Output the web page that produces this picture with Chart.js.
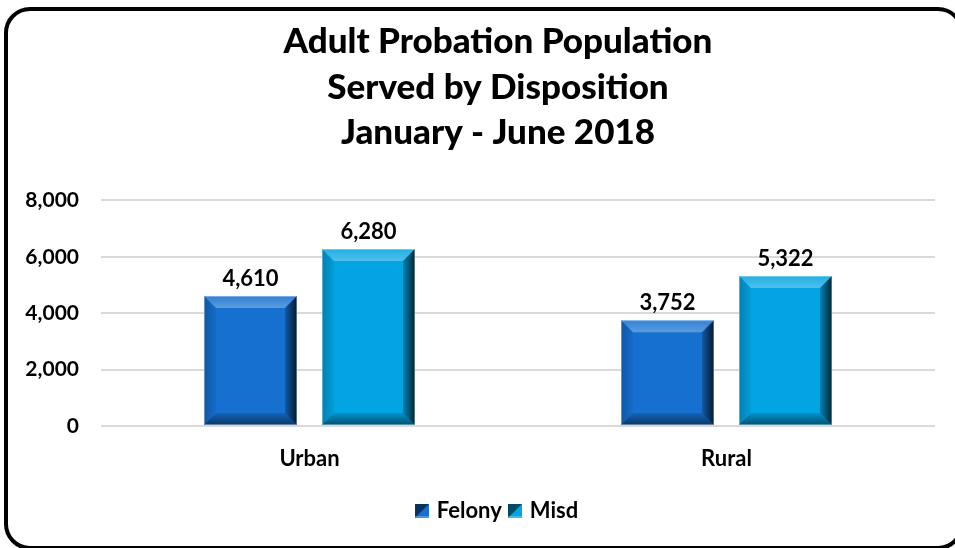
<!DOCTYPE html>
<html>
<head>
<meta charset="utf-8">
<title>Adult Probation Population Served by Disposition</title>
<script src="https://cdn.jsdelivr.net/npm/chart.js@4/dist/chart.umd.min.js"></script>
<style>
    html, body { margin: 0; padding: 0; background: #fff; overflow: hidden; }
    #wrap { position: relative; width: 955px; height: 548px; overflow: hidden; }
    #chart { position: absolute; left: 0; top: 0; }
    .frame {
        position: absolute; left: 4px; top: 7px;
        width: 960px; height: 543px; box-sizing: border-box;
        border: 4px solid #000; border-radius: 26px; pointer-events: none;
    }
</style>
</head>
<body>
<div id="wrap">
    <canvas id="chart" width="955" height="548"></canvas>
    <div class="frame"></div>
</div>
<script>
// 数据
const categories = ['Urban', 'Rural'];
const seriesNames = ['Felony', 'Misd'];
const felonyValues = [4610, 3752];
const misdValues = [6280, 5322];
const yTicks = [0, 2000, 4000, 6000, 8000];
const titleLines = ['Adult Probation Population', 'Served by Disposition', 'January - June 2018'];

const FONT = 'Lato, Carlito, "Open Sans", sans-serif';
const colors = { felony: '#1570d0', misd: '#02a4e2' };

// 图例小方块（带斜面）
function legendSwatch(color) {
    const c = document.createElement('canvas');
    c.width = 14;
    c.height = 14;
    const g = c.getContext('2d');
    g.fillStyle = color;
    g.fillRect(0, 0, 14, 14);
    g.fillStyle = 'rgba(0,0,0,0.55)';
    g.beginPath();
    g.moveTo(0, 0);
    g.lineTo(14, 0);
    g.lineTo(0, 14);
    g.closePath();
    g.fill();
    g.fillStyle = 'rgba(255,255,255,0.25)';
    g.fillRect(0, 12, 14, 2);
    return c;
}

// 斜面效果（bevel）
const bevelPlugin = {
    id: 'bevel',
    afterDatasetsDraw(chart) {
        const ctx = chart.ctx;
        const d = 12;
        chart.data.datasets.forEach((ds, i) => {
            chart.getDatasetMeta(i).data.forEach(bar => {
                const { x, y, base, width } = bar.getProps(['x', 'y', 'base', 'width'], true);
                const l = x - width / 2, r = x + width / 2, t = y, b = base;
                const poly = (pts, fill) => {
                    ctx.beginPath();
                    ctx.moveTo(pts[0][0], pts[0][1]);
                    pts.slice(1).forEach(p => ctx.lineTo(p[0], p[1]));
                    ctx.closePath();
                    ctx.fillStyle = fill;
                    ctx.fill();
                };
                ctx.save();
                let g = ctx.createLinearGradient(0, t, 0, t + d);
                g.addColorStop(0, 'rgba(255,255,255,0.12)');
                g.addColorStop(1, 'rgba(255,255,255,0.3)');
                poly([[l, t], [r, t], [r - d, t + d], [l + d, t + d]], g);

                g = ctx.createLinearGradient(l, 0, l + d, 0);
                g.addColorStop(0, 'rgba(0,0,0,0.22)');
                g.addColorStop(1, 'rgba(0,0,0,0.04)');
                poly([[l, t], [l + d, t + d], [l + d, b - d], [l, b]], g);

                g = ctx.createLinearGradient(0, b - d, 0, b);
                g.addColorStop(0, 'rgba(0,0,0,0.12)');
                g.addColorStop(1, 'rgba(0,0,0,0.5)');
                poly([[l, b], [l + d, b - d], [r - d, b - d], [r, b]], g);

                g = ctx.createLinearGradient(r - d, 0, r, 0);
                g.addColorStop(0, 'rgba(0,0,0,0.2)');
                g.addColorStop(1, 'rgba(0,0,0,0.78)');
                poly([[r, t], [r, b], [r - d, b - d], [r - d, t + d]], g);

                ctx.strokeStyle = 'rgba(255,255,255,0.35)';
                ctx.lineWidth = 1;
                ctx.strokeRect(l + 0.5, t + 0.5, width - 1, b - t - 1);
                ctx.restore();
            });
        });
    }
};

// 数据标签
const valueLabelPlugin = {
    id: 'valueLabels',
    afterDatasetsDraw(chart) {
        const ctx = chart.ctx;
        ctx.save();
        ctx.font = 'bold 22px ' + FONT;
        ctx.fillStyle = '#000';
        ctx.textAlign = 'center';
        ctx.textBaseline = 'middle';
        chart.data.datasets.forEach((ds, i) => {
            chart.getDatasetMeta(i).data.forEach((bar, j) => {
                ctx.fillText(ds.data[j].toLocaleString('en-US'), bar.x, bar.y - 17);
            });
        });
        ctx.restore();
    }
};

const chart = new Chart(document.getElementById('chart'), {
    type: 'bar',
    data: {
        labels: categories,
        datasets: [
            { label: seriesNames[0], data: felonyValues, backgroundColor: colors.felony, pointStyle: legendSwatch(colors.felony) },
            { label: seriesNames[1], data: misdValues, backgroundColor: colors.misd, pointStyle: legendSwatch(colors.misd) }
        ]
    },
    options: {
        responsive: false,
        animation: false,
        devicePixelRatio: 1,
        categoryPercentage: 0.566,
        barPercentage: 0.788,
        layout: { padding: { left: 61, right: 20, top: 0, bottom: 16 } },
        plugins: {
            title: {
                display: true,
                text: titleLines,
                color: '#000',
                font: { family: FONT, size: 35, weight: 900, lineHeight: 1.29 },
                padding: { top: 19.5, bottom: 45.5 }
            },
            legend: {
                position: 'bottom',
                labels: {
                    color: '#000',
                    font: { family: FONT, size: 22, weight: 'bold' },
                    usePointStyle: true,
                    pointStyleWidth: 8,
                    boxHeight: 14,
                    padding: 9
                }
            },
            tooltip: { enabled: false }
        },
        scales: {
            x: {
                grid: { display: false, drawTicks: false },
                border: { display: false },
                ticks: { color: '#000', font: { family: FONT, size: 22, weight: 'bold' }, padding: 20 },
                afterFit(scale) { scale.height = 65; }
            },
            y: {
                min: 0,
                max: 8000,
                afterBuildTicks(scale) { scale.ticks = yTicks.map(v => ({ value: v })); },
                grid: { color: '#d9d9d9', lineWidth: 2, drawTicks: false },
                border: { display: false },
                ticks: {
                    color: '#000',
                    font: { family: FONT, size: 21, weight: 'bold' },
                    padding: 22,
                    callback: v => v.toLocaleString('en-US')
                },
                afterFit(scale) {
                    scale.width = 40;
                    // 标签超出坐标轴宽度，不裁剪
                    scale._computeLabelArea = () => undefined;
                }
            }
        }
    },
    plugins: [bevelPlugin, valueLabelPlugin]
});
</script>
</body>
</html>
